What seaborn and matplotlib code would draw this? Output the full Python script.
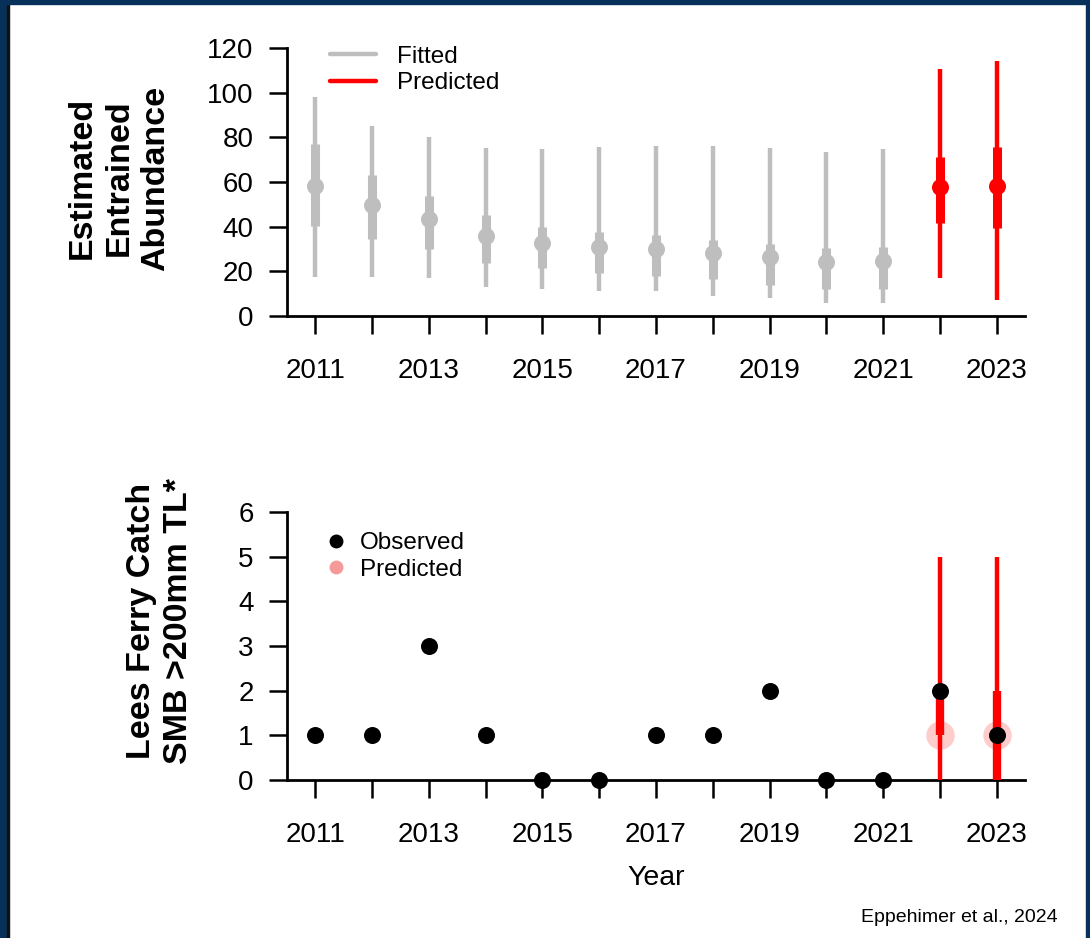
import matplotlib
matplotlib.use("Agg")
import matplotlib.pyplot as plt
from matplotlib.lines import Line2D
from matplotlib.patches import Rectangle
import seaborn as sns
import pandas as pd

# ---- data -------------------------------------------------------------
fit_years = [2011, 2012, 2013, 2014, 2015, 2016, 2017, 2018, 2019, 2020, 2021]
fit_median = [58.0, 49.7, 43.3, 35.8, 32.8, 31.0, 29.9, 28.0, 26.3, 24.3, 24.8]
fit_lo95 = [17.3, 17.6, 16.9, 13.1, 11.9, 11.3, 11.3, 9.0, 8.2, 5.7, 6.0]
fit_hi95 = [98.0, 85.0, 80.0, 75.1, 74.6, 75.5, 76.1, 76.1, 75.4, 73.6, 74.8]
fit_lo50 = [40.3, 34.3, 29.9, 23.9, 21.3, 19.4, 17.9, 16.4, 13.9, 11.9, 11.9]
fit_hi50 = [77.0, 63.0, 53.7, 45.2, 40.0, 37.8, 36.3, 34.0, 32.2, 30.3, 30.8]

pred_years = [2022, 2023]
pred_median = [57.9, 58.2]
pred_lo95 = [16.9, 7.2]
pred_hi95 = [110.5, 114.3]
pred_lo50 = [41.8, 39.3]
pred_hi50 = [71.0, 75.5]

catch_years = [2011, 2012, 2013, 2014, 2015, 2016, 2017, 2018, 2019, 2020, 2021, 2022, 2023]
catch_observed = [1, 1, 3, 1, 0, 0, 1, 1, 2, 0, 0, 2, 1]
catch_pred_median = [1, 1]
catch_pred_lo95 = [0, 0]
catch_pred_hi95 = [5, 5]
catch_pred_lo50 = [1, 0]
catch_pred_hi50 = [2, 2]

year_ticks = list(range(2011, 2024))
year_labels = [str(y) if y % 2 == 1 else "" for y in year_ticks]
abund_ticks = [0, 20, 40, 60, 80, 100, 120]
catch_ticks = [0, 1, 2, 3, 4, 5, 6]

# ---- style ------------------------------------------------------------
sns.set_theme(style="white")
plt.rcParams["font.family"] = ["Liberation Sans", "DejaVu Sans"]
plt.rcParams["text.color"] = "black"
plt.rcParams["axes.labelcolor"] = "black"

GRAY = "#bebebe"
RED = "#ff0000"
NAVY = "#07315a"
TICK_FS = 20
LEG_FS = 17.5

fig = plt.figure(figsize=(10.9, 9.38), dpi=100)
W, H = 1090, 938


def px_axes(x0, y_top, x1, y_bot):
    return fig.add_axes([x0 / W, 1 - y_bot / H, (x1 - x0) / W, (y_bot - y_top) / H])


def style_axis(ax, ymax, yticks):
    ax.set_xlim(2010.5, 2023.5)
    ax.set_ylim(0, ymax)
    for side in ("top", "right"):
        ax.spines[side].set_visible(False)
    for side in ("left", "bottom"):
        ax.spines[side].set_linewidth(2)
        ax.spines[side].set_color("black")
    ax.set_xticks(year_ticks)
    ax.set_xticklabels(year_labels)
    ax.set_yticks(yticks)
    ax.tick_params(axis="both", which="major", bottom=True, left=True,
                   direction="out", length=13, width=1.8,
                   color="black", labelcolor="black", labelsize=TICK_FS)
    ax.tick_params(axis="x", pad=17)
    ax.tick_params(axis="y", pad=11)
    ax.set_xlabel("")
    ax.set_ylabel("")
    ax.grid(False)


# ---- top panel: estimated entrained abundance -------------------------
ax1 = px_axes(287, 48, 1025, 316)
fit_df = pd.DataFrame({"year": fit_years, "median": fit_median})
pred_df = pd.DataFrame({"year": pred_years, "median": pred_median})

ax1.vlines(fit_years, fit_lo95, fit_hi95, color=GRAY, lw=3.2, zorder=2)
ax1.vlines(fit_years, fit_lo50, fit_hi50, color=GRAY, lw=6.5, zorder=2)
ax1.vlines(pred_years, pred_lo95, pred_hi95, color=RED, lw=3.2, zorder=2)
ax1.vlines(pred_years, pred_lo50, pred_hi50, color=RED, lw=6.5, zorder=2)
sns.scatterplot(data=fit_df, x="year", y="median", ax=ax1, color=GRAY,
                s=150, linewidth=0, zorder=3, legend=False)
sns.scatterplot(data=pred_df, x="year", y="median", ax=ax1, color=RED,
                s=150, linewidth=0, zorder=3, legend=False)
style_axis(ax1, 120, abund_ticks)

handles1 = [Line2D([], [], color=GRAY, lw=3.2), Line2D([], [], color=RED, lw=3.2)]
ax1.legend(handles1, ["Fitted", "Predicted"], loc="upper left",
           bbox_to_anchor=(0.045, 1.045), frameon=False, fontsize=LEG_FS,
           handlelength=1.9, handletextpad=0.85, labelspacing=0.18,
           borderaxespad=0)

# ---- bottom panel: Lees Ferry catch -----------------------------------
ax2 = px_axes(287, 512, 1025, 780)
obs_df = pd.DataFrame({"year": catch_years, "count": catch_observed})
cpred_df = pd.DataFrame({"year": pred_years, "count": catch_pred_median})

sns.scatterplot(data=cpred_df, x="year", y="count", ax=ax2, color=RED,
                alpha=0.2, s=420, linewidth=0, zorder=2, legend=False)
ax2.vlines(pred_years, catch_pred_lo95, catch_pred_hi95, color=RED, lw=3.2,
           zorder=3, clip_on=False)
ax2.vlines(pred_years, catch_pred_lo50, catch_pred_hi50, color=RED, lw=6.0,
           zorder=3, clip_on=False)
sns.scatterplot(data=obs_df, x="year", y="count", ax=ax2, color="black",
                s=150, linewidth=0, zorder=4, legend=False, clip_on=False)
style_axis(ax2, 6, catch_ticks)

handles2 = [Line2D([], [], ls="none", marker="o", ms=10, mew=0, color="black"),
            Line2D([], [], ls="none", marker="o", ms=10, mew=0, color="#f59a9a")]
ax2.legend(handles2, ["Observed", "Predicted"], loc="upper left",
           bbox_to_anchor=(0.04, 0.96), frameon=False, fontsize=LEG_FS,
           handlelength=0.8, handletextpad=0.6, labelspacing=0.18,
           borderaxespad=0)

# ---- axis titles and credit -------------------------------------------
fig.text(119 / W, 1 - 178 / H, "Estimated\nEntrained\nAbundance", rotation=90,
         ha="center", va="center", fontsize=24.5, fontweight="bold",
         linespacing=1.22)
fig.text(160 / W, 1 - 621 / H, "Lees Ferry Catch\nSMB >200mm TL*",
         rotation=90, ha="center", va="center", fontsize=24.5,
         fontweight="bold", linespacing=1.22)
fig.text(656 / W, 1 - 878 / H, "Year", ha="center", va="center",
         fontsize=20.5)
fig.text(1058 / W, 1 - 917 / H, "Eppehimer et al., 2024", ha="right",
         va="center", fontsize=14)

# ---- slide frame ------------------------------------------------------
fig.patches.append(Rectangle((0, 0), 7 / W, 1, transform=fig.transFigure,
                             color=NAVY, zorder=10))
fig.patches.append(Rectangle((7 / W, 0), 2 / W, 1, transform=fig.transFigure,
                             color="#111111", zorder=10))
fig.patches.append(Rectangle((0, 1 - 4 / H), 1, 4 / H, transform=fig.transFigure,
                             color=NAVY, zorder=10))
fig.patches.append(Rectangle((1 - 4 / W, 0), 4 / W, 1, transform=fig.transFigure,
                             color=NAVY, zorder=10))

fig.savefig("out.png", dpi=100)
